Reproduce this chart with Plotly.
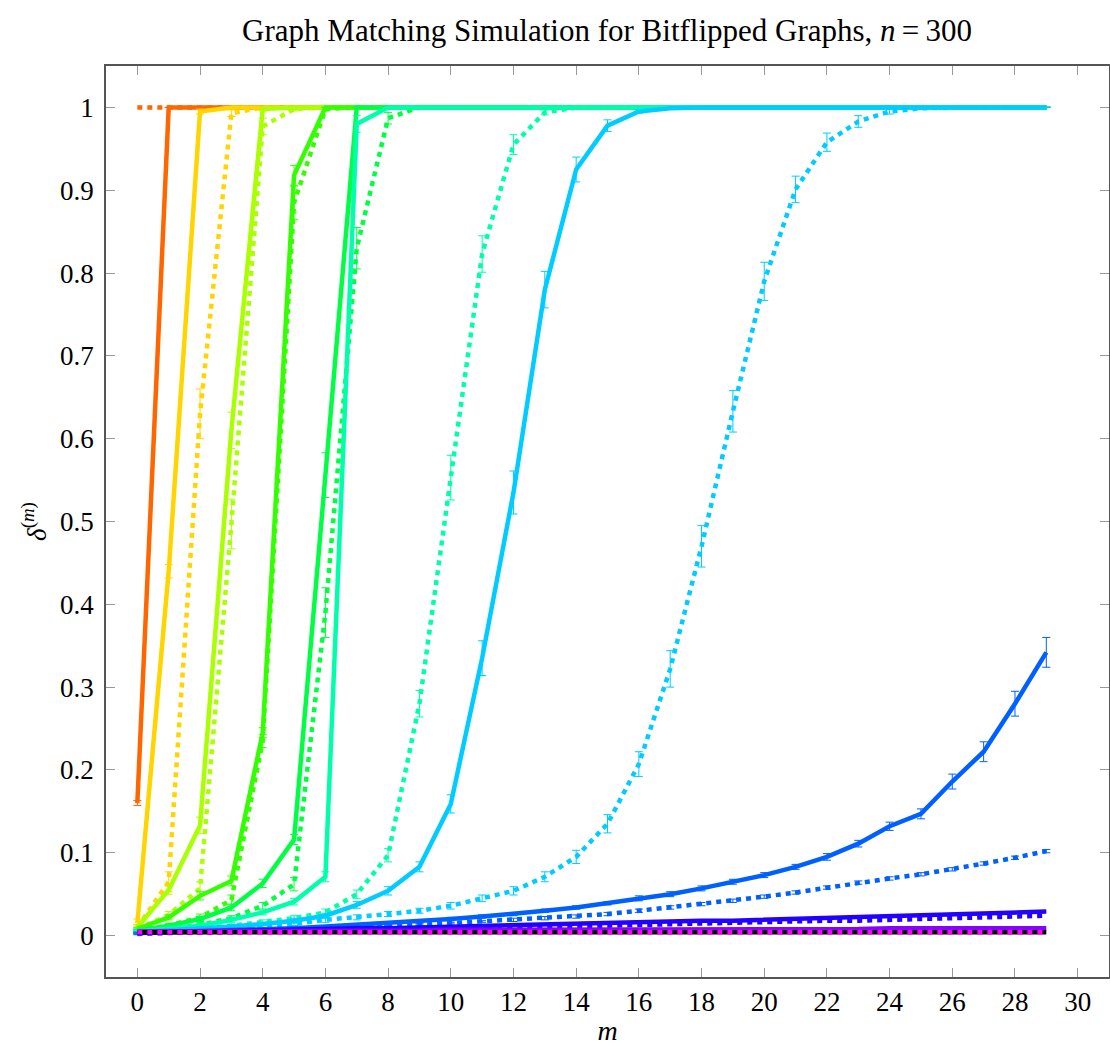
import plotly.graph_objects as go

m = list(range(30))

# ---- series values ----
orange_solid = [0.160, 1.000, 1.000, 1.000, 1.000, 1.000, 1.000, 1.000, 1.000, 1.000,
                1.000, 1.000, 1.000, 1.000, 1.000, 1.000, 1.000, 1.000, 1.000, 1.000,
                1.000, 1.000, 1.000, 1.000, 1.000, 1.000, 1.000, 1.000, 1.000, 1.000]
orange_dot = [1.000, 1.000, 1.000, 1.000, 1.000, 1.000, 1.000, 1.000, 1.000, 1.000,
              1.000, 1.000, 1.000, 1.000, 1.000, 1.000, 1.000, 1.000, 1.000, 1.000,
              1.000, 1.000, 1.000, 1.000, 1.000, 1.000, 1.000, 1.000, 1.000, 1.000]
gold_solid = [0.015, 0.440, 0.995, 1.000, 1.000, 1.000, 1.000, 1.000, 1.000, 1.000,
              1.000, 1.000, 1.000, 1.000, 1.000, 1.000, 1.000, 1.000, 1.000, 1.000,
              1.000, 1.000, 1.000, 1.000, 1.000, 1.000, 1.000, 1.000, 1.000, 1.000]
gold_dot = [0.010, 0.065, 0.630, 0.993, 1.000, 1.000, 1.000, 1.000, 1.000, 1.000,
            1.000, 1.000, 1.000, 1.000, 1.000, 1.000, 1.000, 1.000, 1.000, 1.000,
            1.000, 1.000, 1.000, 1.000, 1.000, 1.000, 1.000, 1.000, 1.000, 1.000]
lime_solid = [0.010, 0.055, 0.133, 0.610, 0.998, 1.000, 1.000, 1.000, 1.000, 1.000,
              1.000, 1.000, 1.000, 1.000, 1.000, 1.000, 1.000, 1.000, 1.000, 1.000,
              1.000, 1.000, 1.000, 1.000, 1.000, 1.000, 1.000, 1.000, 1.000, 1.000]
lime_dot = [0.008, 0.025, 0.057, 0.497, 0.977, 0.998, 1.000, 1.000, 1.000, 1.000,
            1.000, 1.000, 1.000, 1.000, 1.000, 1.000, 1.000, 1.000, 1.000, 1.000,
            1.000, 1.000, 1.000, 1.000, 1.000, 1.000, 1.000, 1.000, 1.000, 1.000]
green_solid = [0.008, 0.022, 0.048, 0.066, 0.245, 0.918, 1.000, 1.000, 1.000, 1.000,
               1.000, 1.000, 1.000, 1.000, 1.000, 1.000, 1.000, 1.000, 1.000, 1.000,
               1.000, 1.000, 1.000, 1.000, 1.000, 1.000, 1.000, 1.000, 1.000, 1.000]
green_dot = [0.006, 0.012, 0.022, 0.043, 0.235, 0.885, 0.998, 1.000, 1.000, 1.000,
             1.000, 1.000, 1.000, 1.000, 1.000, 1.000, 1.000, 1.000, 1.000, 1.000,
             1.000, 1.000, 1.000, 1.000, 1.000, 1.000, 1.000, 1.000, 1.000, 1.000]
green2_solid = [0.006, 0.012, 0.020, 0.034, 0.063, 0.116, 0.556, 1.000, 1.000, 1.000,
                1.000, 1.000, 1.000, 1.000, 1.000, 1.000, 1.000, 1.000, 1.000, 1.000,
                1.000, 1.000, 1.000, 1.000, 1.000, 1.000, 1.000, 1.000, 1.000, 1.000]
green2_dot = [0.005, 0.008, 0.013, 0.021, 0.036, 0.062, 0.390, 0.830, 0.987, 1.000,
              1.000, 1.000, 1.000, 1.000, 1.000, 1.000, 1.000, 1.000, 1.000, 1.000,
              1.000, 1.000, 1.000, 1.000, 1.000, 1.000, 1.000, 1.000, 1.000, 1.000]
aqua_solid = [0.005, 0.008, 0.012, 0.019, 0.028, 0.041, 0.071, 0.980, 1.000, 1.000,
              1.000, 1.000, 1.000, 1.000, 1.000, 1.000, 1.000, 1.000, 1.000, 1.000,
              1.000, 1.000, 1.000, 1.000, 1.000, 1.000, 1.000, 1.000, 1.000, 1.000]
aqua_dot = [0.004, 0.006, 0.009, 0.012, 0.016, 0.021, 0.028, 0.050, 0.097, 0.280,
            0.553, 0.823, 0.955, 0.994, 1.000, 1.000, 1.000, 1.000, 1.000, 1.000,
            1.000, 1.000, 1.000, 1.000, 1.000, 1.000, 1.000, 1.000, 1.000, 1.000]
sky_solid = [0.004, 0.006, 0.008, 0.011, 0.014, 0.018, 0.024, 0.037, 0.054, 0.083,
             0.159, 0.335, 0.535, 0.780, 0.925, 0.978, 0.995, 0.999, 1.000, 1.000,
             1.000, 1.000, 1.000, 1.000, 1.000, 1.000, 1.000, 1.000, 1.000, 1.000]
sky_dot = [0.003, 0.005, 0.007, 0.009, 0.011, 0.014, 0.019, 0.022, 0.026, 0.030,
           0.036, 0.045, 0.054, 0.071, 0.095, 0.135, 0.207, 0.322, 0.470, 0.633,
           0.790, 0.901, 0.958, 0.983, 0.995, 0.999, 1.000, 1.000, 1.000, 1.000]
blue_solid = [0.003, 0.004, 0.005, 0.006, 0.007, 0.009, 0.011, 0.013, 0.015, 0.017,
              0.020, 0.023, 0.026, 0.030, 0.034, 0.039, 0.045, 0.050, 0.057, 0.065,
              0.073, 0.083, 0.095, 0.111, 0.132, 0.147, 0.186, 0.222, 0.280, 0.342]
blue_dot = [0.002, 0.003, 0.004, 0.005, 0.006, 0.007, 0.008, 0.009, 0.011, 0.013,
            0.015, 0.017, 0.019, 0.021, 0.023, 0.026, 0.030, 0.034, 0.038, 0.042,
            0.047, 0.052, 0.058, 0.064, 0.069, 0.074, 0.080, 0.087, 0.094, 0.102]
indigo_solid = [0.003, 0.004, 0.005, 0.006, 0.006, 0.007, 0.008, 0.009, 0.009, 0.010,
                0.011, 0.012, 0.013, 0.013, 0.014, 0.015, 0.016, 0.017, 0.018, 0.018,
                0.019, 0.020, 0.021, 0.022, 0.023, 0.024, 0.025, 0.026, 0.027, 0.029]
indigo_dot = [0.003, 0.003, 0.004, 0.004, 0.005, 0.006, 0.006, 0.007, 0.008, 0.008,
              0.009, 0.010, 0.010, 0.011, 0.012, 0.012, 0.013, 0.014, 0.015, 0.015,
              0.016, 0.017, 0.018, 0.018, 0.019, 0.020, 0.021, 0.022, 0.023, 0.024]
violet_solid = [0.005, 0.005, 0.005, 0.005, 0.006, 0.006, 0.006, 0.006, 0.006, 0.006,
                0.007, 0.007, 0.007, 0.007, 0.007, 0.007, 0.007, 0.008, 0.008, 0.008,
                0.008, 0.008, 0.008, 0.008, 0.009, 0.009, 0.009, 0.009, 0.009, 0.009]
black_line = [0.004, 0.004, 0.004, 0.004, 0.004, 0.004, 0.004, 0.004, 0.004, 0.004,
              0.004, 0.004, 0.004, 0.004, 0.004, 0.004, 0.004, 0.004, 0.004, 0.004,
              0.004, 0.004, 0.004, 0.004, 0.004, 0.004, 0.004, 0.004, 0.004, 0.004]
magenta_dot = [0.004, 0.004, 0.004, 0.004, 0.004, 0.004, 0.004, 0.004, 0.004, 0.004,
               0.004, 0.004, 0.004, 0.004, 0.004, 0.004, 0.004, 0.004, 0.004, 0.004,
               0.004, 0.004, 0.004, 0.004, 0.004, 0.004, 0.004, 0.004, 0.004, 0.004]

# ---- error bar half-widths ----
err_orange_solid = [0.003, 0, 0, 0, 0, 0, 0, 0, 0, 0, 0, 0, 0, 0, 0, 0, 0, 0, 0, 0, 0, 0, 0, 0, 0, 0, 0, 0, 0, 0]
err_gold_solid = [0.005, 0.008, 0.003, 0, 0, 0, 0, 0, 0, 0, 0, 0, 0, 0, 0, 0, 0, 0, 0, 0, 0, 0, 0, 0, 0, 0, 0, 0, 0, 0]
err_gold_dot = [0.003, 0.012, 0.030, 0.004, 0, 0, 0, 0, 0, 0, 0, 0, 0, 0, 0, 0, 0, 0, 0, 0, 0, 0, 0, 0, 0, 0, 0, 0, 0, 0]
err_lime_solid = [0.003, 0.005, 0.010, 0.022, 0.002, 0, 0, 0, 0, 0, 0, 0, 0, 0, 0, 0, 0, 0, 0, 0, 0, 0, 0, 0, 0, 0, 0, 0, 0, 0]
err_lime_dot = [0.002, 0.004, 0.008, 0.030, 0.010, 0.002, 0, 0, 0, 0, 0, 0, 0, 0, 0, 0, 0, 0, 0, 0, 0, 0, 0, 0, 0, 0, 0, 0, 0, 0]
err_green_solid = [0.002, 0.003, 0.005, 0.006, 0.006, 0.012, 0, 0, 0, 0, 0, 0, 0, 0, 0, 0, 0, 0, 0, 0, 0, 0, 0, 0, 0, 0, 0, 0, 0, 0]
err_green_dot = [0.002, 0.003, 0.004, 0.006, 0.008, 0.020, 0.002, 0, 0, 0, 0, 0, 0, 0, 0, 0, 0, 0, 0, 0, 0, 0, 0, 0, 0, 0, 0, 0, 0, 0]
err_green2_solid = [0.002, 0.002, 0.003, 0.004, 0.005, 0.006, 0.027, 0, 0, 0, 0, 0, 0, 0, 0, 0, 0, 0, 0, 0, 0, 0, 0, 0, 0, 0, 0, 0, 0, 0]
err_green2_dot = [0.002, 0.002, 0.003, 0.003, 0.004, 0.008, 0.030, 0.025, 0.007, 0, 0, 0, 0, 0, 0, 0, 0, 0, 0, 0, 0, 0, 0, 0, 0, 0, 0, 0, 0, 0]
err_aqua_solid = [0.002, 0.002, 0.002, 0.003, 0.003, 0.004, 0.006, 0.010, 0, 0, 0, 0, 0, 0, 0, 0, 0, 0, 0, 0, 0, 0, 0, 0, 0, 0, 0, 0, 0, 0]
err_aqua_dot = [0.001, 0.002, 0.002, 0.002, 0.003, 0.003, 0.004, 0.005, 0.008, 0.016, 0.027, 0.022, 0.012, 0.003, 0, 0, 0, 0, 0, 0, 0, 0, 0, 0, 0, 0, 0, 0, 0, 0]
err_sky_solid = [0.001, 0.002, 0.002, 0.002, 0.002, 0.003, 0.003, 0.004, 0.005, 0.006, 0.011, 0.021, 0.026, 0.022, 0.015, 0.007, 0.002, 0, 0, 0, 0, 0, 0, 0, 0, 0, 0, 0, 0, 0]
err_sky_dot = [0.001, 0.001, 0.002, 0.002, 0.002, 0.002, 0.003, 0.003, 0.003, 0.003, 0.004, 0.004, 0.005, 0.006, 0.008, 0.011, 0.015, 0.022, 0.025, 0.025, 0.023, 0.016, 0.011, 0.007, 0.003, 0.001, 0, 0, 0, 0]
err_blue_solid = [0.001, 0.001, 0.001, 0.001, 0.001, 0.001, 0.001, 0.001, 0.002, 0.002, 0.002, 0.002, 0.002, 0.002, 0.002, 0.002, 0.003, 0.003, 0.003, 0.003, 0.003, 0.003, 0.004, 0.004, 0.005, 0.006, 0.009, 0.012, 0.015, 0.018]
err_blue_dot = [0.001, 0.001, 0.001, 0.001, 0.001, 0.001, 0.001, 0.001, 0.001, 0.001, 0.001, 0.001, 0.002, 0.002, 0.002, 0.002, 0.002, 0.002, 0.002, 0.002, 0.002, 0.002, 0.002, 0.002, 0.002, 0.002, 0.002, 0.002, 0.002, 0.002]

# ---- styling ----
C_ORANGE = "#FF6600"
C_GOLD = "#FFD500"
C_LIME = "#AAFF00"
C_GREEN = "#33FF00"
C_GREEN2 = "#00FF44"
C_AQUA = "#00FFAA"
C_SKY = "#00CCFF"
C_BLUE = "#0060FF"
C_INDIGO = "#2200FF"
C_VIOLET = "#8800FF"
C_MAGENTA = "#FF00FF"
C_BLACK = "#000000"

LW = 4.5
DOT = "5px,5px"

fig = go.Figure()


def add(y, color, dash, err=None):
    kw = {}
    if err is not None:
        kw["error_y"] = dict(type="data", array=err, visible=True,
                             color=color, thickness=1, width=4)
    fig.add_trace(go.Scatter(
        x=m, y=y, mode="lines",
        line=dict(color=color, width=LW, dash=dash),
        showlegend=False, hoverinfo="skip", **kw))


add(orange_solid, C_ORANGE, "solid", err_orange_solid)
add(orange_dot, C_ORANGE, DOT)
add(gold_solid, C_GOLD, "solid", err_gold_solid)
add(gold_dot, C_GOLD, DOT, err_gold_dot)
add(lime_solid, C_LIME, "solid", err_lime_solid)
add(lime_dot, C_LIME, DOT, err_lime_dot)
add(green_solid, C_GREEN, "solid", err_green_solid)
add(green_dot, C_GREEN, DOT, err_green_dot)
add(green2_solid, C_GREEN2, "solid", err_green2_solid)
add(green2_dot, C_GREEN2, DOT, err_green2_dot)
add(aqua_solid, C_AQUA, "solid", err_aqua_solid)
add(aqua_dot, C_AQUA, DOT, err_aqua_dot)
add(sky_solid, C_SKY, "solid", err_sky_solid)
add(sky_dot, C_SKY, DOT, err_sky_dot)
add(blue_solid, C_BLUE, "solid", err_blue_solid)
add(blue_dot, C_BLUE, DOT, err_blue_dot)
add(indigo_solid, C_INDIGO, "solid")
add(indigo_dot, C_INDIGO, DOT)
add(violet_solid, C_VIOLET, "solid")
add(black_line, C_BLACK, "solid")
add(magenta_dot, C_MAGENTA, DOT)

SERIF = "Liberation Serif, DejaVu Serif, serif"
axis_common = dict(
    showgrid=False, zeroline=False,
    showline=True, linecolor="#555555", linewidth=1.5, mirror="ticks",
    ticks="inside", ticklen=9, tickwidth=1, tickcolor="#999999",
    tickfont=dict(family=SERIF, size=27, color="#000000"),
    automargin=False,
)

fig.update_layout(
    width=1110, height=1046,
    margin=dict(l=106, r=1, t=66, b=69),
    paper_bgcolor="white", plot_bgcolor="white",
    title=dict(text="Graph Matching Simulation for Bitflipped Graphs, <i>n</i>\u2009=\u2009300",
               x=0.5469, xanchor="center", y=0.971, yanchor="middle",
               font=dict(family=SERIF, size=31, color="#000000")),
    xaxis=dict(range=[-1, 31], tickvals=list(range(0, 31, 2)),
               title=dict(text="<i>m</i>", standoff=4,
                          font=dict(family=SERIF, size=28, color="#000000")),
               **axis_common),
    yaxis=dict(range=[-0.05, 1.05], tickvals=[0, 0.1, 0.2, 0.3, 0.4, 0.5, 0.6, 0.7, 0.8, 0.9, 1],
               ticktext=["0", "0.1", "0.2", "0.3", "0.4", "0.5", "0.6", "0.7", "0.8", "0.9", "1"],
               ticklabelstandoff=5,
               title=dict(text="<i>δ</i><sup>(<i>m</i>)</sup>", standoff=6,
                          font=dict(family=SERIF, size=27, color="#000000")),
               **axis_common),
)

fig.write_html("out.html")
